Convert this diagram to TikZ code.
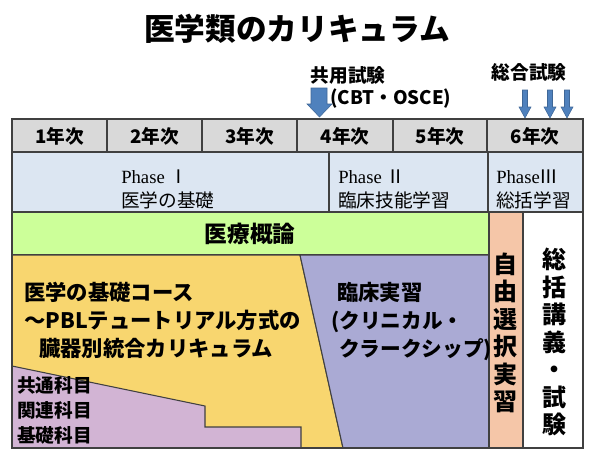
\documentclass[tikz,border=0pt]{standalone}
\usepackage{fontspec}
\usepackage{xcolor}
\usepackage{tikz}
\usetikzlibrary{positioning,calc}
\newfontfamily\jp{Noto Sans CJK JP}
\newfontfamily\phasefont{Liberation Serif}
\definecolor{headgray}{HTML}{D9D9D9}
\definecolor{phaseblue}{HTML}{DCE6F2}
\definecolor{limegreen}{HTML}{CCFF99}
\definecolor{basicyellow}{HTML}{F8D66F}
\definecolor{clinicblue}{HTML}{AAAAD4}
\definecolor{lilac}{HTML}{D2B4D4}
\definecolor{salmon}{HTML}{F5C6A8}
\definecolor{arrowblue}{HTML}{4F81BD}
\definecolor{framegray}{HTML}{404040}

\begin{document}
\begin{tikzpicture}[
  x=0.75pt, y=-0.75pt,
  cell/.style={draw=framegray, line width=1pt},
  region/.style={draw=framegray, line width=0.8pt},
  testarrow/.style={fill=arrowblue, draw=arrowblue!80!black, line width=0.4pt},
  yearlab/.style={font=\jp\bfseries\fontsize{14}{16}\selectfont, inner sep=0pt},
  phaselab/.style={font=\phasefont\fontsize{14}{16}\selectfont, inner sep=0pt, anchor=west},
  phasejp/.style={font=\jp\fontsize{14}{16}\selectfont, inner sep=0pt, anchor=west},
  bodylab/.style={font=\jp\bfseries\fontsize{16}{21}\selectfont, inner sep=0pt},
  cliniclab/.style={font=\jp\bfseries\fontsize{15.5}{20}\selectfont, inner sep=0pt, anchor=west},
  sublab/.style={font=\jp\bfseries\fontsize{14}{18}\selectfont, inner sep=0pt, anchor=west},
  vertlab/.style={font=\jp\bfseries\fontsize{18}{20.6}\selectfont, inner sep=0pt, align=center}
]
\useasboundingbox (0,0) rectangle (595,460);

% title
\node[font=\jp\bfseries\fontsize{23}{26}\selectfont] (title) at (297,29) {医学類のカリキュラム};

% exams
\node[yearlab] (kyoyo) at (348,75) {共用試験};
\node[yearlab, anchor=west] (cbt) at (330,99) {(CBT・OSCE)};
\node[yearlab] (sogo) at (529,72) {総合試験};
\fill[testarrow] (311,88) -- (327,88) -- (327,104) -- (332,104) -- (319.5,117)
  -- (307,104) -- (311,104) -- cycle;
\foreach \ax in {525,550,567}
  \fill[testarrow] (\ax-2.5,90) -- (\ax+2.5,90) -- (\ax+2.5,107) -- (\ax+6,107)
    -- (\ax,118) -- (\ax-6,107) -- (\ax-2.5,107) -- cycle;

% years
\foreach \i/\xa/\xb in {1/12/107, 2/107/202, 3/202/297, 4/297/393, 5/393/487, 6/487/583} {
  \filldraw[cell, fill=headgray] (\xa,119) rectangle (\xb,152);
  \node[yearlab] (y\i) at ({(\xa+\xb)/2},136) {{\i}年次};
}

% phases
\filldraw[cell, fill=phaseblue] (12,152) rectangle (329,212);
\filldraw[cell, fill=phaseblue] (329,152) rectangle (488,212);
\filldraw[cell, fill=phaseblue] (488,152) rectangle (583,212);
\node[phaselab] (ph1) at (121,177) {Phase {\jp Ⅰ}};
\node[phasejp] (ph1b) at (121,200) {医学の基礎};
\node[phaselab] (ph2) at (338,177) {Phase {\jp Ⅱ}};
\node[phasejp] (ph2b) at (338,200) {臨床技能学習};
\node[phaselab] (ph3) at (496,177) {Phase{\jp Ⅲ}};
\node[phasejp] (ph3b) at (496,200) {総括学習};

% blocks
\filldraw[cell, fill=limegreen] (12,212) rectangle (489,255);
\filldraw[region, fill=basicyellow] (12,255) -- (300,255) -- (343,448) -- (12,448) -- cycle;
\filldraw[region, fill=clinicblue] (300,255) -- (489,255) -- (489,448) -- (343,448) -- cycle;
\filldraw[region, fill=lilac] (12,366) -- (205,406) -- (205,427) -- (301,427) -- (301,448)
  -- (12,448) -- cycle;
\filldraw[cell, fill=salmon] (489,212) rectangle (523,448);
\filldraw[cell, fill=white] (523,212) rectangle (583,448);
\draw[framegray, line width=1.6pt] (12,119) rectangle (583,448);

\node[bodylab, font=\jp\bfseries\fontsize{17}{20}\selectfont] (gairon) at (250,234) {医療概論};
\node[bodylab, anchor=west, align=left] (kisocourse) at (24,320)
  {医学の基礎コース\\～PBLテュートリアル方式の\\\hspace{0.7em}臓器別統合カリキュラム};
\node[bodylab, anchor=west] (rinsho) at (337,292) {臨床実習};
\node[cliniclab] (clinic1) at (331,322) {(クリニカル・};
\node[cliniclab] (clinic2) at (339,350) {クラークシップ)};
\node[sublab] (kyotsu) at (17,385) {共通科目};
\node[sublab] (kanren) at (17,410) {関連科目};
\node[sublab] (kisokamoku) at (17,435) {基礎科目};
\node[vertlab] (jiyu) at (505,333) {自\\由\\選\\択\\実\\習};
\node[vertlab] (sokatsu) at (554,342) {総\\括\\講\\義\\・\\試\\験};
\end{tikzpicture}
\end{document}
